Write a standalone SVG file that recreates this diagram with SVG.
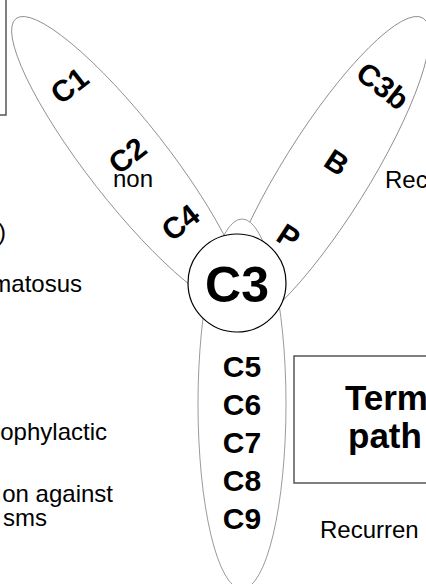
<svg xmlns="http://www.w3.org/2000/svg" width="426" height="584" viewBox="0 0 426 584">
<style>
.lobe{fill:#fff;stroke:#808080;stroke-width:0.8}
.hub{fill:#fff;stroke:#000;stroke-width:1.2}
.box{fill:none;stroke:#555;stroke-width:1.5}
.lab{font-family:"Liberation Sans",Arial,sans-serif;font-weight:bold;font-size:30px;fill:#000;text-anchor:middle}
.big{font-family:"Liberation Sans",Arial,sans-serif;font-weight:bold;font-size:50px;fill:#000;text-anchor:middle}
.body{font-family:"Liberation Sans",Arial,sans-serif;font-size:24px;fill:#000}
.head{font-family:"Liberation Sans",Arial,sans-serif;font-weight:bold;font-size:35px;fill:#000}
</style>
<rect width="426" height="584" fill="#fff"/>
<g id="box-topleft"><rect class="box" x="-10" y="-10" width="16" height="125"/></g>
<g id="box-terminal">
<rect class="box" x="294" y="356" width="150" height="127"/>
<text class="head" x="345" y="410">Term</text>
<text class="head" x="348" y="448">path</text>
</g>
<g id="lobe-classical"><ellipse class="lobe" cx="128" cy="162" rx="40" ry="182" transform="rotate(-38 128 162)"/></g>
<g id="lobe-alternative"><ellipse class="lobe" cx="325" cy="175" rx="43" ry="185" transform="rotate(32 325 175)"/></g>
<g id="lobe-terminal"><ellipse class="lobe" cx="242" cy="404" rx="44" ry="185"/></g>
<g id="hub-C3"><circle class="hub" cx="237" cy="283" r="49"/><text class="big" x="237" y="302">C3</text></g>
<g id="side-texts">
<text class="body" x="153" y="187" text-anchor="end">non</text>
<text class="body" x="6" y="240" text-anchor="end">)</text>
<text class="body" x="82" y="292" text-anchor="end">matosus</text>
<text class="body" x="107" y="440" text-anchor="end">ophylactic</text>
<text class="body" x="113" y="502" text-anchor="end">on against</text>
<text class="body" x="47" y="526" text-anchor="end">sms</text>
<text class="body" x="385" y="188">Rec</text>
<text class="body" x="320" y="538">Recurren</text>
</g>
<g id="labels">
<text class="lab" x="69" y="96" transform="rotate(-38 69 85)">C1</text>
<text class="lab" x="127" y="166" transform="rotate(-38 127 155)">C2</text>
<text class="lab" x="180" y="233" transform="rotate(-38 180 222)">C4</text>
<text class="lab" x="382" y="96" transform="rotate(38 382 87)">C3b</text>
<text class="lab" x="337" y="173" transform="rotate(33 337 162)">B</text>
<text class="lab" x="289" y="247" transform="rotate(33 289 236)">P</text>
<text class="lab" x="242" y="377">C5</text>
<text class="lab" x="242" y="415">C6</text>
<text class="lab" x="242" y="453">C7</text>
<text class="lab" x="242" y="491">C8</text>
<text class="lab" x="242" y="529">C9</text>
</g>
</svg>
